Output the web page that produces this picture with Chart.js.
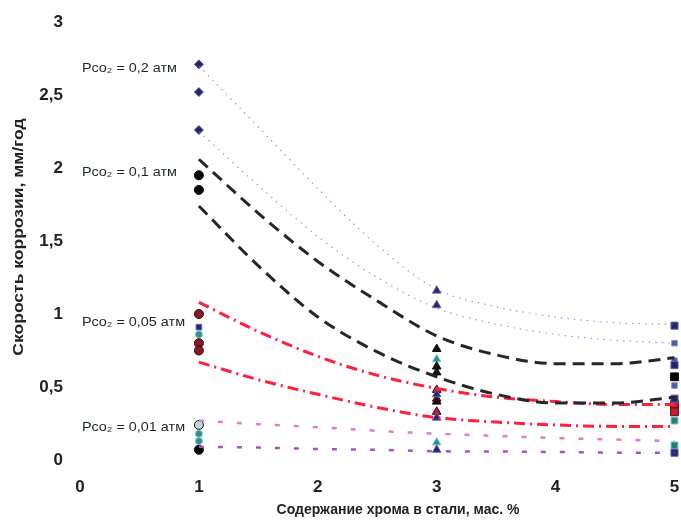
<!DOCTYPE html>
<html lang="ru">
<head>
<meta charset="UTF-8">
<title>Скорость коррозии</title>
<script src="https://cdn.jsdelivr.net/npm/chart.js@4.4.1/dist/chart.umd.min.js"></script>
<style>
  html, body { margin: 0; padding: 0; background: #fff; }
  #wrap { width: 681px; height: 520px; }
</style>
</head>
<body>
<div id="wrap"><canvas id="chart"></canvas></div>
<script>
// trend curves (upper / lower bound per CO2 pressure)
const curveX   = [1, 1.5, 2, 2.5, 3, 3.5, 4, 4.5, 5];
const p02High  = [2.70, 2.28, 1.86, 1.47, 1.17, 1.05, 0.98, 0.94, 0.93];
const p02Low   = [2.25, 1.88, 1.53, 1.25, 1.04, 0.93, 0.86, 0.82, 0.80];
const p01High  = [2.06, 1.69, 1.36, 1.09, 0.85, 0.72, 0.66, 0.66, 0.70];
const p01Low   = [1.74, 1.33, 0.98, 0.74, 0.57, 0.45, 0.39, 0.39, 0.43];
const p005High = [1.08, 0.88, 0.71, 0.58, 0.49, 0.43, 0.40, 0.38, 0.38];
const p005Low  = [0.67, 0.55, 0.45, 0.36, 0.29, 0.26, 0.24, 0.23, 0.23];
const p001High = [0.27, 0.245, 0.225, 0.20, 0.18, 0.165, 0.15, 0.14, 0.13];
const p001Low  = [0.09, 0.085, 0.075, 0.07, 0.06, 0.058, 0.055, 0.05, 0.05];

// measured points at 1 % Cr
const navyDiamonds1 = [2.71, 2.52, 2.26];
const blackCircles1 = [1.95, 1.85, 0.07];
const redCircles1   = [1.00, 0.80, 0.75];
const navySquares1  = [0.91];
const tealCircles1  = [0.86, 0.18, 0.13];
const openCircles1  = [0.24];
// at 3 % Cr
const navyTriangles3  = [1.16, 1.06, 0.45, 0.29, 0.07];
const blackTriangles3 = [0.76, 0.64, 0.60, 0.40];
const redTriangles3   = [0.48, 0.42, 0.33];
const tealTriangles3  = [0.69, 0.12];
// at 5 % Cr
const navySquares5  = [0.92, 0.65, 0.42, 0.05];
const blueSquares5  = [0.80, 0.68, 0.51];
const blackSquares5 = [0.57];
const redSquares5   = [0.38, 0.33];
const tealSquares5  = [0.27, 0.10];

const pressureLabels = ['Pco₂ = 0,2 атм', 'Pco₂ = 0,1 атм', 'Pco₂ = 0,05 атм', 'Pco₂ = 0,01 атм'];
const pressureLabelY = [2.68, 1.97, 0.94, 0.22];

const xTitle = 'Содержание хрома в стали, мас. %';
const yTitle = 'Скорость коррозии, мм/год';

function curve(ys) { return ys.map((y, i) => ({ x: curveX[i], y: y })); }
function pts(x, ys) { return ys.map(y => ({ x: x, y: y })); }

function line(ys, color, width, dash) {
  return {
    type: 'line', data: curve(ys), borderColor: color, borderWidth: width,
    borderDash: dash, pointRadius: 0, fill: false, cubicInterpolationMode: 'monotone', clip: false
  };
}
function marks(x, ys, style, fill, edge, r) {
  return {
    type: 'scatter', data: pts(x, ys), pointStyle: style, pointRadius: r,
    backgroundColor: fill, borderColor: edge, borderWidth: 1, clip: false
  };
}

const labelsPlugin = {
  id: 'labels',
  afterDraw(chart) {
    const ctx = chart.ctx;
    const xs = chart.scales.x, ys = chart.scales.y;
    ctx.save();
    ctx.fillStyle = '#1a2626';
    ctx.font = '12px "Liberation Sans", Arial, sans-serif';
    ctx.textBaseline = 'middle';
    ctx.textAlign = 'left';
    pressureLabels.forEach((t, i) => {
      ctx.save();
      ctx.translate(xs.getPixelForValue(0) + 2, ys.getPixelForValue(pressureLabelY[i]));
      ctx.scale(1.2, 1.05);
      ctx.fillText(t, 0, 0);
      ctx.restore();
    });
    ctx.fillStyle = '#222';
    ctx.font = 'bold 14px "Liberation Sans", Arial, sans-serif';
    ctx.textAlign = 'center';
    ctx.fillText(xTitle, 398, 510);
    ctx.translate(19, 237);
    ctx.rotate(-Math.PI / 2);
    ctx.scale(1.25, 1);
    ctx.fillText(yTitle, 0, 0);
    ctx.restore();
  }
};

const navy = '#25256e', teal = '#2f8f8f', dred = '#8a1a28';

new Chart(document.getElementById('chart'), {
  data: {
    datasets: [
      line(p02High, 'rgba(110,110,220,0.7)', 1.2, [1.5, 5]),
      line(p02Low, 'rgba(110,110,220,0.7)', 1.2, [1.5, 5]),
      line(p01High, '#262626', 3, [12, 7]),
      line(p01Low, '#262626', 3, [12, 7]),
      line(p005High, '#ff1f3f', 3, [11, 5, 2, 5]),
      line(p005Low, '#ff1f3f', 3, [11, 5, 2, 5]),
      line(p001High, '#e27ccb', 2.5, [5, 14]),
      line(p001Low, '#a552c8', 2.5, [5, 14]),

      marks(1, navyDiamonds1, 'rectRot', navy, '#5656a8', 4.5),
      marks(1, blackCircles1, 'circle', '#000', '#000', 4.5),
      marks(1, redCircles1, 'circle', dred, '#2a0a0a', 4.5),
      marks(1, navySquares1, 'rect', navy, '#6666bb', 4),
      marks(1, tealCircles1, 'circle', teal, '#7fc4c4', 3.5),
      marks(1, openCircles1, 'circle', '#bfd8d8', '#111', 4.5),

      marks(3, navyTriangles3, 'triangle', navy, '#6a6ab8', 5),
      marks(3, blackTriangles3, 'triangle', '#111', '#111', 5),
      marks(3, redTriangles3, 'triangle', '#c8182e', '#3a0a0a', 5),
      marks(3, tealTriangles3, 'triangle', teal, '#8fd0d0', 5),

      marks(5, navySquares5, 'rect', navy, '#5a5aa8', 5),
      marks(5, blueSquares5, 'rect', '#4a5aa8', '#8a9ad0', 4),
      marks(5, blackSquares5, 'rect', '#050505', '#050505', 5.5),
      marks(5, redSquares5, 'rect', '#c81e2e', '#5a0a0a', 5.5),
      marks(5, tealSquares5, 'rect', '#1f7f7a', '#9fd8d8', 5)
    ]
  },
  options: {
    responsive: true,
    maintainAspectRatio: false,
    animation: false,
    layout: { padding: { top: 22, right: 6, left: 0, bottom: 0 } },
    plugins: { legend: { display: false }, tooltip: { enabled: false } },
    scales: {
      x: {
        type: 'linear', min: 0, max: 5,
        grid: { display: false, drawTicks: false }, border: { display: false },
        ticks: { stepSize: 1, padding: 17, color: '#222', font: { size: 17, weight: 'bold', family: '"Liberation Sans", Arial' } },
        afterFit(s) { s.height = 60; s.paddingLeft = 0; s.paddingRight = 0; }
      },
      y: {
        type: 'linear', min: 0, max: 3,
        grid: { display: false, drawTicks: false }, border: { display: false },
        ticks: {
          stepSize: 0.5, padding: 17, color: '#222',
          font: { size: 17, weight: 'bold', family: '"Liberation Sans", Arial' },
          callback: v => String(v).replace('.', ',')
        },
        afterFit(s) { s.width = 80; s.paddingTop = 0; s.paddingBottom = 0; }
      }
    }
  },
  plugins: [labelsPlugin]
});
</script>
</body>
</html>
